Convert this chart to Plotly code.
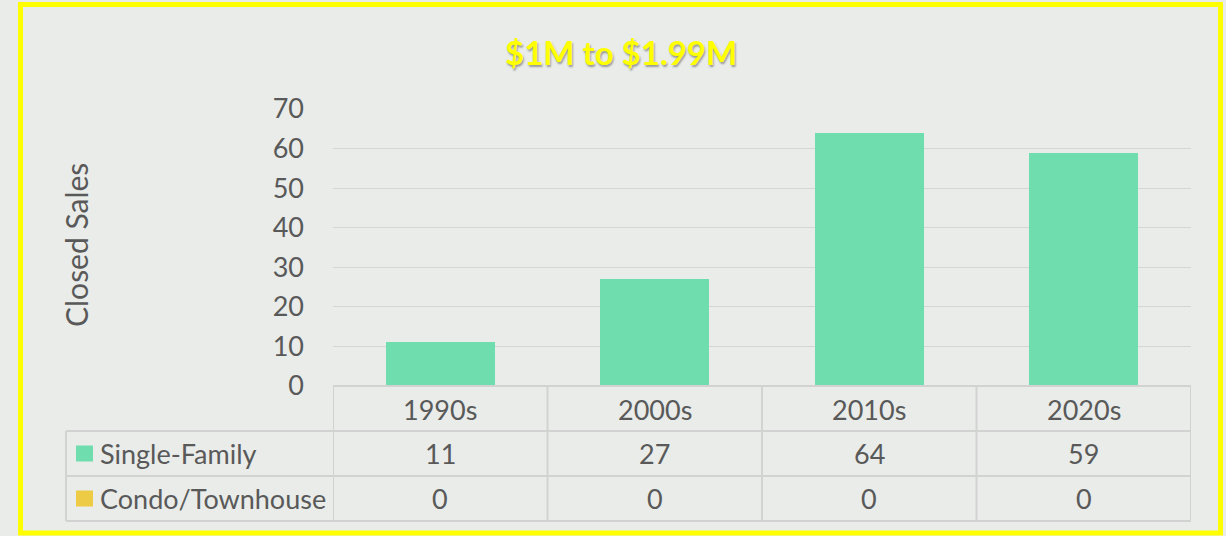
import plotly.graph_objects as go

categories = ["1990s", "2000s", "2010s", "2020s"]
single_family = [11, 27, 64, 59]
condo_townhouse = [0, 0, 0, 0]
series_names = ["Single-Family", "Condo/Townhouse"]
title_text = "$1M to $1.99M"
y_title = "Closed Sales"

W, H = 1226, 536
L, R, T, B = 333, 1191, 109, 386  # plot area pixel box

def px(xp):
    return (xp - L) / (R - L)

def py(yp):
    return (B - yp) / (B - T)

SF_COLOR = "#70DDAE"
CT_COLOR = "#EECB45"
TXT = "#595959"
GRID = "#D4D6D4"
FONT = "Lato"
FS = 27

fig = go.Figure()
fig.add_trace(go.Bar(x=categories, y=single_family, name=series_names[0],
                     marker=dict(color=SF_COLOR, line=dict(width=0)), width=0.51))
fig.add_trace(go.Bar(x=categories, y=condo_townhouse, name=series_names[1],
                     marker=dict(color=CT_COLOR, line=dict(width=0)), width=0.51))

shapes = []
# yellow frame
shapes.append(dict(type="rect", xref="paper", yref="paper",
                   x0=px(20.5), x1=px(1220.5), y0=py(533), y1=py(4.5),
                   line=dict(color="#FFFF00", width=5), layer="above"))
# table lines
line_style = dict(color="#D2D2D2", width=2)
shapes.append(dict(type="line", xref="paper", yref="paper", x0=px(333), x1=px(1191),
                   y0=py(386), y1=py(386), line=line_style))
for yy in [431, 476, 521]:
    shapes.append(dict(type="line", xref="paper", yref="paper", x0=px(66), x1=px(1191),
                       y0=py(yy), y1=py(yy), line=line_style))
for k in range(len(categories) + 1):
    shapes.append(dict(type="line", xref="x", yref="paper", x0=k - 0.5, x1=k - 0.5,
                       y0=py(386), y1=py(521), line=line_style))
shapes.append(dict(type="line", xref="paper", yref="paper", x0=px(66), x1=px(66),
                   y0=py(431), y1=py(521), line=line_style))
# legend keys
row_centers = [453.5, 498.5]
for color, yc in zip([SF_COLOR, CT_COLOR], row_centers):
    shapes.append(dict(type="rect", xref="paper", yref="paper",
                       x0=px(76), x1=px(93), y0=py(yc + 8), y1=py(yc - 8),
                       fillcolor=color, line=dict(width=0)))

annotations = []
annotations.append(dict(text=f"<b>{title_text}</b>", xref="paper", yref="paper",
                        x=px(621), y=py(52), showarrow=False,
                        font=dict(family=FONT, size=33, color="#FFFF00",
                                  shadow="1px 2px 2px rgba(0,0,0,0.35)"),
                        xanchor="center", yanchor="middle"))
annotations.append(dict(text=y_title, xref="paper", yref="paper", x=px(76), y=py(245),
                        textangle=-90, showarrow=False,
                        font=dict(family=FONT, size=30, color=TXT),
                        xanchor="center", yanchor="middle"))
for c in categories:
    annotations.append(dict(text=c, xref="x", yref="paper", x=c, y=py(409), showarrow=False,
                            font=dict(family=FONT, size=FS, color=TXT),
                            xanchor="center", yanchor="middle"))
for name, vals, yc in zip(series_names, [single_family, condo_townhouse], row_centers):
    annotations.append(dict(text=name, xref="paper", yref="paper", x=px(98), y=py(yc),
                            showarrow=False, font=dict(family=FONT, size=FS, color=TXT),
                            xanchor="left", yanchor="middle"))
    for c, v in zip(categories, vals):
        annotations.append(dict(text=str(v), xref="x", yref="paper", x=c, y=py(yc),
                                showarrow=False, font=dict(family=FONT, size=FS, color=TXT),
                                xanchor="center", yanchor="middle"))

fig.update_layout(
    width=W, height=H,
    margin=dict(l=L, r=W - R, t=T, b=H - B, pad=0),
    paper_bgcolor="#E9ECE9",
    plot_bgcolor="rgba(0,0,0,0)",
    barmode="stack",
    showlegend=False,
    shapes=shapes,
    annotations=annotations,
    xaxis=dict(range=[-0.5, 3.5], showticklabels=False, showgrid=False, zeroline=False,
               showline=False, fixedrange=True),
    yaxis=dict(range=[0, 70], dtick=10, showgrid=True, gridcolor=GRID, gridwidth=1,
               zeroline=False, showline=False, ticks="",
               tickfont=dict(family=FONT, size=FS, color=TXT), ticklabelstandoff=28),
    font=dict(family=FONT, color=TXT),
)

fig.write_html("out.html",
               config={"displayModeBar": False},
               post_script="document.body.style.margin='0';document.body.style.padding='0';"
                           "document.body.style.background='#E9ECE9';")
